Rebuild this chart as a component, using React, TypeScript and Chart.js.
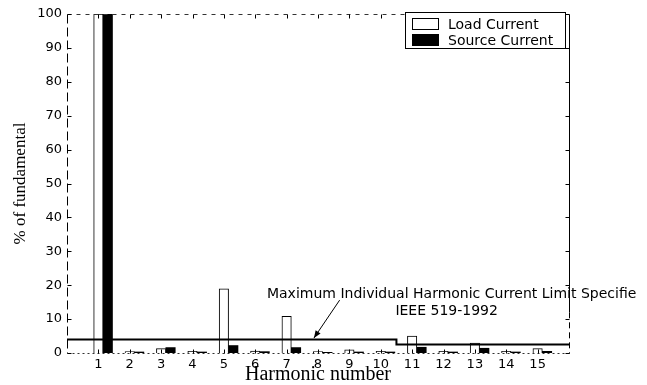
import React, { useEffect, useRef } from 'react';
import { Chart, registerables } from 'chart.js';

Chart.register(...registerables);

// ---- data ----
const harmonics = [1, 2, 3, 4, 5, 6, 7, 8, 9, 10, 11, 12, 13, 14, 15];
const loadCurrent = [100, 0.4, 1.3, 0.5, 18.9, 0.6, 10.8, 0.4, 0.9, 0.5, 5.0, 0.5, 2.9, 0.5, 1.3];
const sourceCurrent = [100, 0.3, 1.6, 0.3, 2.2, 0.4, 1.6, 0.2, 0.3, 0.3, 1.7, 0.3, 1.4, 0.3, 0.5];
const limitX = [0, 10.5, 10.5, 16];
const limitY = [4, 4, 2.5, 2.5];
const seriesNames = ['Load Current', 'Source Current'];
const annotationText = ['Maximum Individual Harmonic Current Limit Specifie', 'IEEE 519-1992'];
const yTitle = '% of fundamental';
const xTitle = 'Harmonic number';

// ---- layout / style constants ----
const SOURCE_OFFSET = 0.3;
const X_MIN = 0;
const X_MAX = 16;
const SANS = '"DejaVu Sans", Arial, sans-serif';
const SERIF = '"Liberation Serif", "Times New Roman", serif';
// annotation anchors in data units
const TEXT_POS = [
  { x: 12.26, y: 17.4 },
  { x: 12.1, y: 12.4 },
];
const ARROW_TAIL = { x: 8.69, y: 15.6 };
const ARROW_TIP = { x: 7.87, y: 4.4 };

const decorPlugin = {
  id: 'decor',
  afterDraw(chart: any) {
    const { ctx, chartArea: a, scales } = chart;
    const xs = scales.x;
    const ys = scales.y;
    ctx.save();
    ctx.strokeStyle = '#000';
    ctx.lineWidth = 1;

    const L = Math.round(a.left) + 0.5;
    const R = Math.round(a.right) + 0.5;
    const T = Math.round(a.top) + 0.5;
    const B = Math.round(a.bottom) + 0.5;

    // frame
    ctx.beginPath();
    ctx.setLineDash([9, 4]);
    ctx.moveTo(L, T); ctx.lineTo(L, B);
    ctx.stroke();
    ctx.beginPath();
    ctx.setLineDash([4, 5]);
    ctx.strokeStyle = '#333';
    ctx.moveTo(L, T); ctx.lineTo(R, T);
    ctx.stroke();
    ctx.beginPath();
    ctx.setLineDash([2, 3]);
    ctx.moveTo(L, B); ctx.lineTo(R, B);
    ctx.stroke();
    ctx.beginPath();
    ctx.setLineDash([]);
    ctx.strokeStyle = '#000';
    ctx.moveTo(R, T); ctx.lineTo(R, a.top + (a.bottom - a.top) * 0.88);
    ctx.stroke();
    ctx.beginPath();
    ctx.setLineDash([6, 4]);
    ctx.moveTo(R, a.top + (a.bottom - a.top) * 0.88); ctx.lineTo(R, B);
    ctx.stroke();
    ctx.setLineDash([]);

    // inward ticks
    ctx.beginPath();
    ys.ticks.forEach((t: any) => {
      const py = Math.round(ys.getPixelForValue(t.value)) + 0.5;
      ctx.moveTo(L, py); ctx.lineTo(L + 4, py);
      ctx.moveTo(R, py); ctx.lineTo(R - 4, py);
    });
    xs.ticks.forEach((t: any) => {
      if (t.value < 1 || t.value > 15) return;
      const px = Math.round(xs.getPixelForValue(t.value)) + 0.5;
      ctx.moveTo(px, T); ctx.lineTo(px, T + 4);
      ctx.moveTo(px, B); ctx.lineTo(px, B - 4);
    });
    ctx.stroke();

    // annotation text
    ctx.fillStyle = '#000';
    ctx.font = `14px ${SANS}`;
    ctx.textAlign = 'center';
    ctx.textBaseline = 'middle';
    annotationText.forEach((txt, i) => {
      ctx.fillText(txt, xs.getPixelForValue(TEXT_POS[i].x), ys.getPixelForValue(TEXT_POS[i].y));
    });

    // arrow
    const x1 = xs.getPixelForValue(ARROW_TAIL.x);
    const y1 = ys.getPixelForValue(ARROW_TAIL.y);
    const x2 = xs.getPixelForValue(ARROW_TIP.x);
    const y2 = ys.getPixelForValue(ARROW_TIP.y);
    ctx.beginPath();
    ctx.moveTo(x1, y1);
    ctx.lineTo(x2, y2);
    ctx.stroke();
    const ang = Math.atan2(y2 - y1, x2 - x1);
    const hl = 8;
    const hw = 0.38;
    ctx.beginPath();
    ctx.moveTo(x2, y2);
    ctx.lineTo(x2 - hl * Math.cos(ang - hw), y2 - hl * Math.sin(ang - hw));
    ctx.lineTo(x2 - hl * Math.cos(ang + hw), y2 - hl * Math.sin(ang + hw));
    ctx.closePath();
    ctx.fill();

    // legend
    const lw = 160;
    const lh = 36;
    const lx = Math.round(a.right) - 4 - lw;
    const ly = Math.round(a.top) - 2;
    ctx.fillStyle = '#fff';
    ctx.fillRect(lx, ly, lw, lh);
    ctx.strokeStyle = '#000';
    ctx.strokeRect(lx + 0.5, ly + 0.5, lw, lh);
    const ds = chart.data.datasets.filter((d: any) => d.type !== 'line');
    ds.forEach((d: any, i: number) => {
      const cy = ly + 12 + i * 16;
      ctx.fillStyle = d.backgroundColor;
      ctx.fillRect(lx + 7, cy - 6, 27, 12);
      ctx.strokeStyle = '#000';
      ctx.strokeRect(lx + 7.5, cy - 5.5, 26, 11);
      ctx.fillStyle = '#000';
      ctx.font = `14px ${SANS}`;
      ctx.textAlign = 'left';
      ctx.textBaseline = 'middle';
      ctx.fillText(d.label, lx + 43, cy + 1);
    });

    ctx.restore();
  },
};

export default function App() {
  const ref = useRef<HTMLCanvasElement | null>(null);

  useEffect(() => {
    if (!ref.current) return;
    const chart = new Chart(ref.current, {
      type: 'bar',
      data: {
        datasets: [
          {
            type: 'line',
            label: 'IEEE 519-1992 limit',
            data: limitX.map((x, i) => ({ x, y: limitY[i] })),
            borderColor: '#000',
            borderWidth: 2,
            pointRadius: 0,
            fill: false,
            tension: 0,
          } as any,
          {
            label: seriesNames[0],
            data: harmonics.map((h, i) => ({ x: h, y: loadCurrent[i] })),
            backgroundColor: '#fff',
            borderColor: '#000',
            borderWidth: 1,
            grouped: false,
            barPercentage: 1,
            categoryPercentage: 1,
          },
          {
            label: seriesNames[1],
            data: harmonics.map((h, i) => ({ x: h + SOURCE_OFFSET, y: sourceCurrent[i] })),
            backgroundColor: '#000',
            borderColor: '#000',
            borderWidth: 0,
            grouped: false,
            barPercentage: 1,
            categoryPercentage: 1,
          },
        ],
      },
      options: {
        responsive: false,
        animation: false,
        events: [],
        layout: { padding: { left: 0, top: 14, right: 78, bottom: 0 } },
        plugins: { legend: { display: false }, tooltip: { enabled: false } },
        scales: {
          x: {
            type: 'linear',
            offset: false,
            min: X_MIN,
            max: X_MAX,
            grid: { display: false, drawTicks: false, offset: false },
            border: { display: false },
            afterFit: (s: any) => { s.height = 32; },
            ticks: {
              stepSize: 1,
              autoSkip: false,
              maxRotation: 0,
              padding: 4,
              color: '#000',
              font: { family: SANS, size: 13 },
              callback: (v: any) => (v >= 1 && v <= 15 ? String(v) : ''),
            },
            title: {
              display: true,
              text: xTitle,
              color: '#000',
              font: { family: SERIF, size: 20, lineHeight: 1 },
              padding: { top: 0, bottom: 0 },
            },
          },
          y: {
            min: 0,
            max: 100,
            grid: { display: false, drawTicks: false },
            border: { display: false },
            afterFit: (s: any) => { s.width = 67; },
            ticks: {
              stepSize: 10,
              padding: 5,
              color: '#000',
              font: { family: SANS, size: 13 },
            },
            title: {
              display: true,
              text: yTitle,
              color: '#000',
              font: { family: SERIF, size: 17, lineHeight: 1.2 },
              padding: { top: 10, bottom: 0 },
            },
          },
        },
      } as any,
      plugins: [decorPlugin],
    });
    return () => chart.destroy();
  }, []);

  return (
    <div style={{ position: 'fixed', left: 0, top: 0, width: 647, height: 385, background: '#fff' }}>
      <canvas ref={ref} width={647} height={385} style={{ display: 'block' }} />
    </div>
  );
}
